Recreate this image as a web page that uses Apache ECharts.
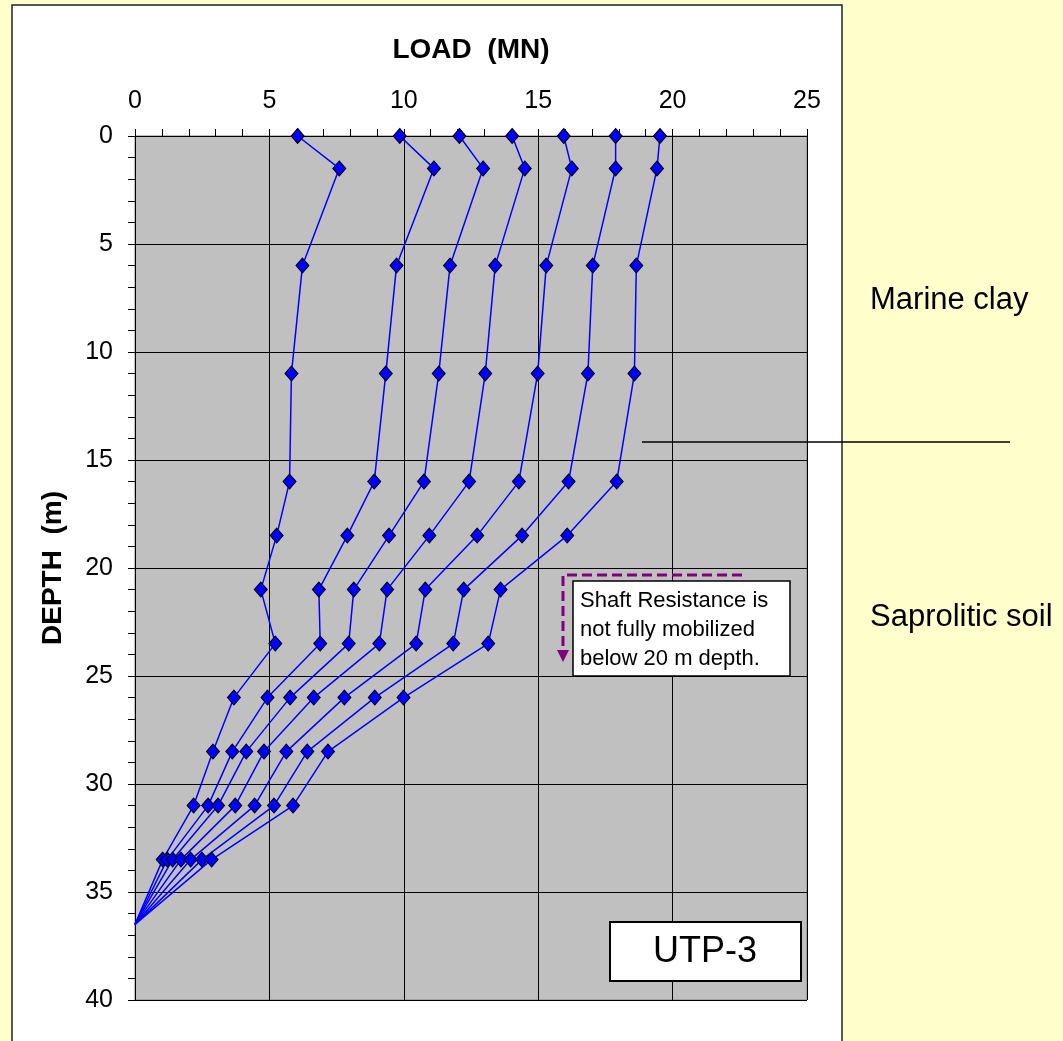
<!DOCTYPE html>
<html>
<head>
<meta charset="utf-8">
<script src="https://cdn.jsdelivr.net/npm/echarts@6/dist/echarts.min.js"></script>
<style>
html,body{margin:0;padding:0;background:#FFFFCC;}
#c{width:1063px;height:1041px;}
</style>
</head>
<body>
<div id="c"></div>
<script>
// Depth (m) of each measurement level
const depths = [0, 1.5, 6, 11, 16, 18.5, 21, 23.5, 26, 28.5, 31, 33.5, 36.5];
// Load (MN) for each load stage
const load1 = [6.05, 7.6, 6.23, 5.82, 5.75, 5.27, 4.68, 5.22, 3.68, 2.9, 2.18, 1.03, 0];
const load2 = [9.85, 11.12, 9.73, 9.33, 8.9, 7.9, 6.84, 6.89, 4.93, 3.62, 2.72, 1.2, 0];
const load3 = [12.07, 12.95, 11.72, 11.3, 10.75, 9.45, 8.14, 7.95, 5.77, 4.14, 3.09, 1.4, 0];
const load4 = [14.03, 14.5, 13.4, 13.03, 12.43, 10.95, 9.38, 9.09, 6.65, 4.8, 3.73, 1.71, 0];
const load5 = [15.95, 16.25, 15.3, 14.98, 14.28, 12.73, 10.8, 10.46, 7.79, 5.63, 4.45, 2.07, 0];
const load6 = [17.88, 17.88, 17.03, 16.85, 16.13, 14.4, 12.23, 11.84, 8.92, 6.41, 5.17, 2.49, 0];
const load7 = [19.53, 19.42, 18.65, 18.58, 17.92, 16.08, 13.6, 13.14, 9.99, 7.18, 5.88, 2.85, 0];
const loadStages = [load1, load2, load3, load4, load5, load6, load7];

const FONT = '"Liberation Sans", Arial, sans-serif';

const chart = echarts.init(document.getElementById('c'), null, {renderer: 'canvas'});

const series = loadStages.map((arr, k) => ({
  type: 'line',
  name: 'Stage ' + (k + 1),
  data: arr.map((v, i) => ({
    value: [v, depths[i]],
    symbol: i === depths.length - 1 ? 'none' : 'diamond'
  })),
  symbolSize: [13, 15],
  lineStyle: {color: '#0000FF', width: 1.5},
  itemStyle: {color: '#0000FF', borderColor: '#000000', borderWidth: 1},
  z: 5,
  animation: false
}));

const option = {
  backgroundColor: '#FFFFCC',
  animation: false,
  grid: {
    left: 135, top: 136, width: 672, height: 864,
    show: true, backgroundColor: '#C0C0C0', borderColor: '#808080', borderWidth: 1,
    containLabel: false
  },
  xAxis: {
    type: 'value', position: 'top', min: 0, max: 25, interval: 5,
    name: 'LOAD  (MN)', nameLocation: 'middle', nameGap: 72,
    nameTextStyle: {fontFamily: FONT, fontWeight: 'bold', fontSize: 28, color: '#000'},
    axisLine: {show: true, onZero: false, lineStyle: {color: '#000', width: 1}},
    axisTick: {show: true, inside: false, length: 7, lineStyle: {color: '#000'}},
    minorTick: {show: true, splitNumber: 5, length: 7, lineStyle: {color: '#000'}},
    splitLine: {show: true, lineStyle: {color: '#000', width: 1}},
    axisLabel: {fontFamily: FONT, fontSize: 25, color: '#000', margin: 22}
  },
  yAxis: {
    type: 'value', inverse: true, min: 0, max: 40, interval: 5,
    name: 'DEPTH  (m)', nameLocation: 'middle', nameGap: 68,
    nameTextStyle: {fontFamily: FONT, fontWeight: 'bold', fontSize: 28, color: '#000'},
    axisLine: {show: true, onZero: false, lineStyle: {color: '#000', width: 1}},
    axisTick: {show: true, inside: false, length: 7, lineStyle: {color: '#000'}},
    minorTick: {show: true, splitNumber: 5, length: 7, lineStyle: {color: '#000'}},
    splitLine: {show: true, lineStyle: {color: '#000', width: 1}},
    axisLabel: {fontFamily: FONT, fontSize: 25, color: '#000', margin: 22}
  },
  series: series,
  graphic: [
    {type: 'rect', z: -100, silent: true,
     shape: {x: 12, y: 5, width: 830, height: 1050},
     style: {fill: '#FFFFFF', stroke: '#222222', lineWidth: 1.5}},
    // boundary line between soil layers
    {type: 'line', z: 100, silent: true,
     shape: {x1: 642, y1: 442, x2: 1010, y2: 442},
     style: {stroke: '#000000', lineWidth: 1.5}},
    {type: 'text', z: 100, silent: true, x: 870, y: 300,
     style: {text: 'Marine clay', font: '31px ' + FONT, fill: '#000', verticalAlign: 'middle'}},
    {type: 'text', z: 100, silent: true, x: 870, y: 617,
     style: {text: 'Saprolitic soil', font: '31px ' + FONT, fill: '#000', verticalAlign: 'middle'}},
    // dashed purple arrow
    {type: 'polyline', z: 100, silent: true,
     shape: {points: [[742, 575], [563, 575], [563, 652]]},
     style: {stroke: '#800080', lineWidth: 3, lineDash: [10, 5], fill: null}},
    {type: 'polygon', z: 100, silent: true,
     shape: {points: [[557, 650], [569, 650], [563, 662]]},
     style: {fill: '#800080'}},
    // note box
    {type: 'rect', z: 100, silent: true,
     shape: {x: 573, y: 581, width: 217, height: 95},
     style: {fill: '#FFFFFF', stroke: '#000000', lineWidth: 1.5}},
    {type: 'text', z: 101, silent: true, x: 580, y: 586,
     style: {text: 'Shaft Resistance is\nnot fully mobilized\nbelow 20 m depth.', font: '22px ' + FONT,
             fill: '#000', lineHeight: 29, verticalAlign: 'top'}},
    // UTP-3 label box
    {type: 'rect', z: 100, silent: true,
     shape: {x: 610, y: 922, width: 191, height: 59},
     style: {fill: '#FFFFFF', stroke: '#000000', lineWidth: 2}},
    {type: 'text', z: 101, silent: true, x: 705, y: 952,
     style: {text: 'UTP-3', font: '36px ' + FONT, fill: '#000', align: 'center', verticalAlign: 'middle'}}
  ]
};
chart.setOption(option);
</script>
</body>
</html>
